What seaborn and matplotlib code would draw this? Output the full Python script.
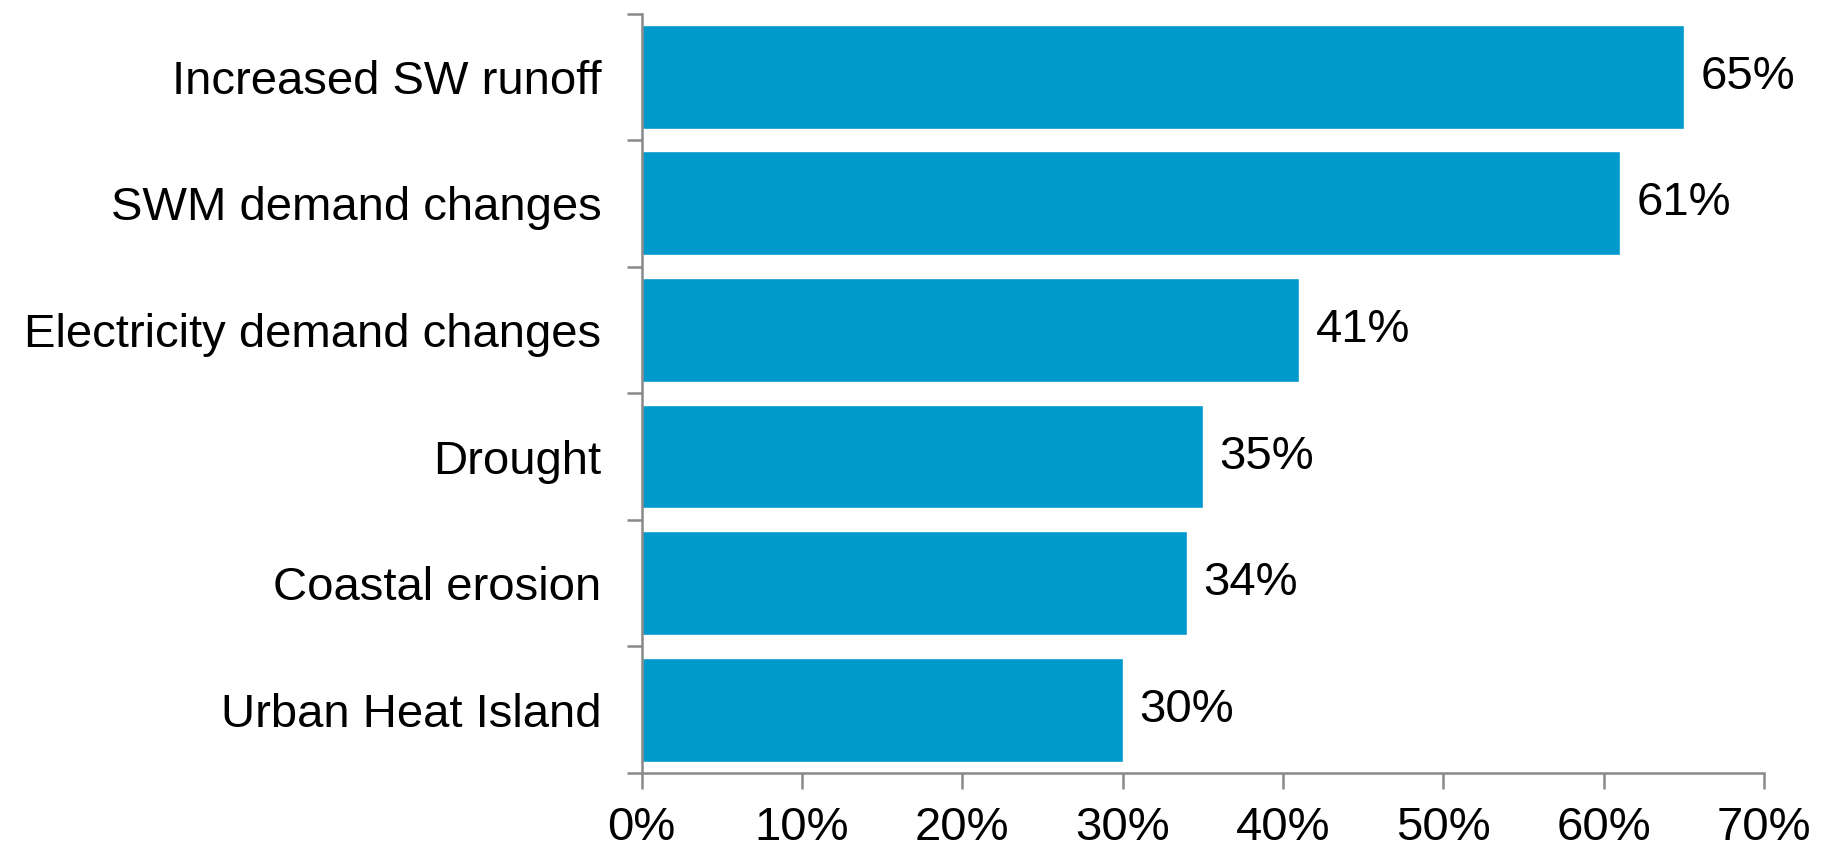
import matplotlib
matplotlib.use("Agg")
import matplotlib.pyplot as plt
import seaborn as sns
import pandas as pd
from matplotlib.ticker import FixedLocator, FuncFormatter

categories = [
    "Increased SW runoff",
    "SWM demand changes",
    "Electricity demand changes",
    "Drought",
    "Coastal erosion",
    "Urban Heat Island",
]
shares = [65, 61, 41, 35, 34, 30]
x_ticks = [0, 10, 20, 30, 40, 50, 60, 70]

df = pd.DataFrame({"category": categories, "share": shares})

sns.set_theme(style="white")
plt.rcParams["font.family"] = ["Liberation Sans", "DejaVu Sans"]

fig = plt.figure(figsize=(18.29, 8.5), dpi=100)
ax = fig.add_axes([0.3508, 0.0906, 0.6138, 0.8935])

bar_color = "#0099CC"
sns.barplot(data=df, x="share", y="category", orient="h", color=bar_color,
            width=0.82, saturation=1, ax=ax)

ax.set_xlim(0, 70)
ax.set_ylim(len(categories) - 0.5, -0.5)
ax.set_xlabel("")
ax.set_ylabel("")

axis_gray = "#898989"
for side in ("top", "right"):
    ax.spines[side].set_visible(False)
for side in ("left", "bottom"):
    ax.spines[side].set_color(axis_gray)
    ax.spines[side].set_linewidth(1.8)

ax.xaxis.set_major_locator(FixedLocator(x_ticks))
ax.xaxis.set_major_formatter(FuncFormatter(lambda v, _: f"{v:.0f}%"))
ax.tick_params(axis="x", which="major", direction="out", length=11.5, width=1.8,
               color=axis_gray, labelsize=34, labelcolor="black", pad=12,
               bottom=True)

# category labels on major ticks, boundary marks on minor ticks
ax.yaxis.set_minor_locator(FixedLocator([i - 0.5 for i in range(len(categories) + 1)]))
ax.tick_params(axis="y", which="major", length=0, labelsize=34,
               labelcolor="black", pad=29)
ax.tick_params(axis="y", which="minor", direction="out", length=11, width=1.8,
               color=axis_gray, left=True)

ax.bar_label(ax.containers[0], labels=[f"{v}%" for v in shares],
             padding=12, fontsize=34, color="black")

fig.savefig("out.png", dpi=100, facecolor="white")
